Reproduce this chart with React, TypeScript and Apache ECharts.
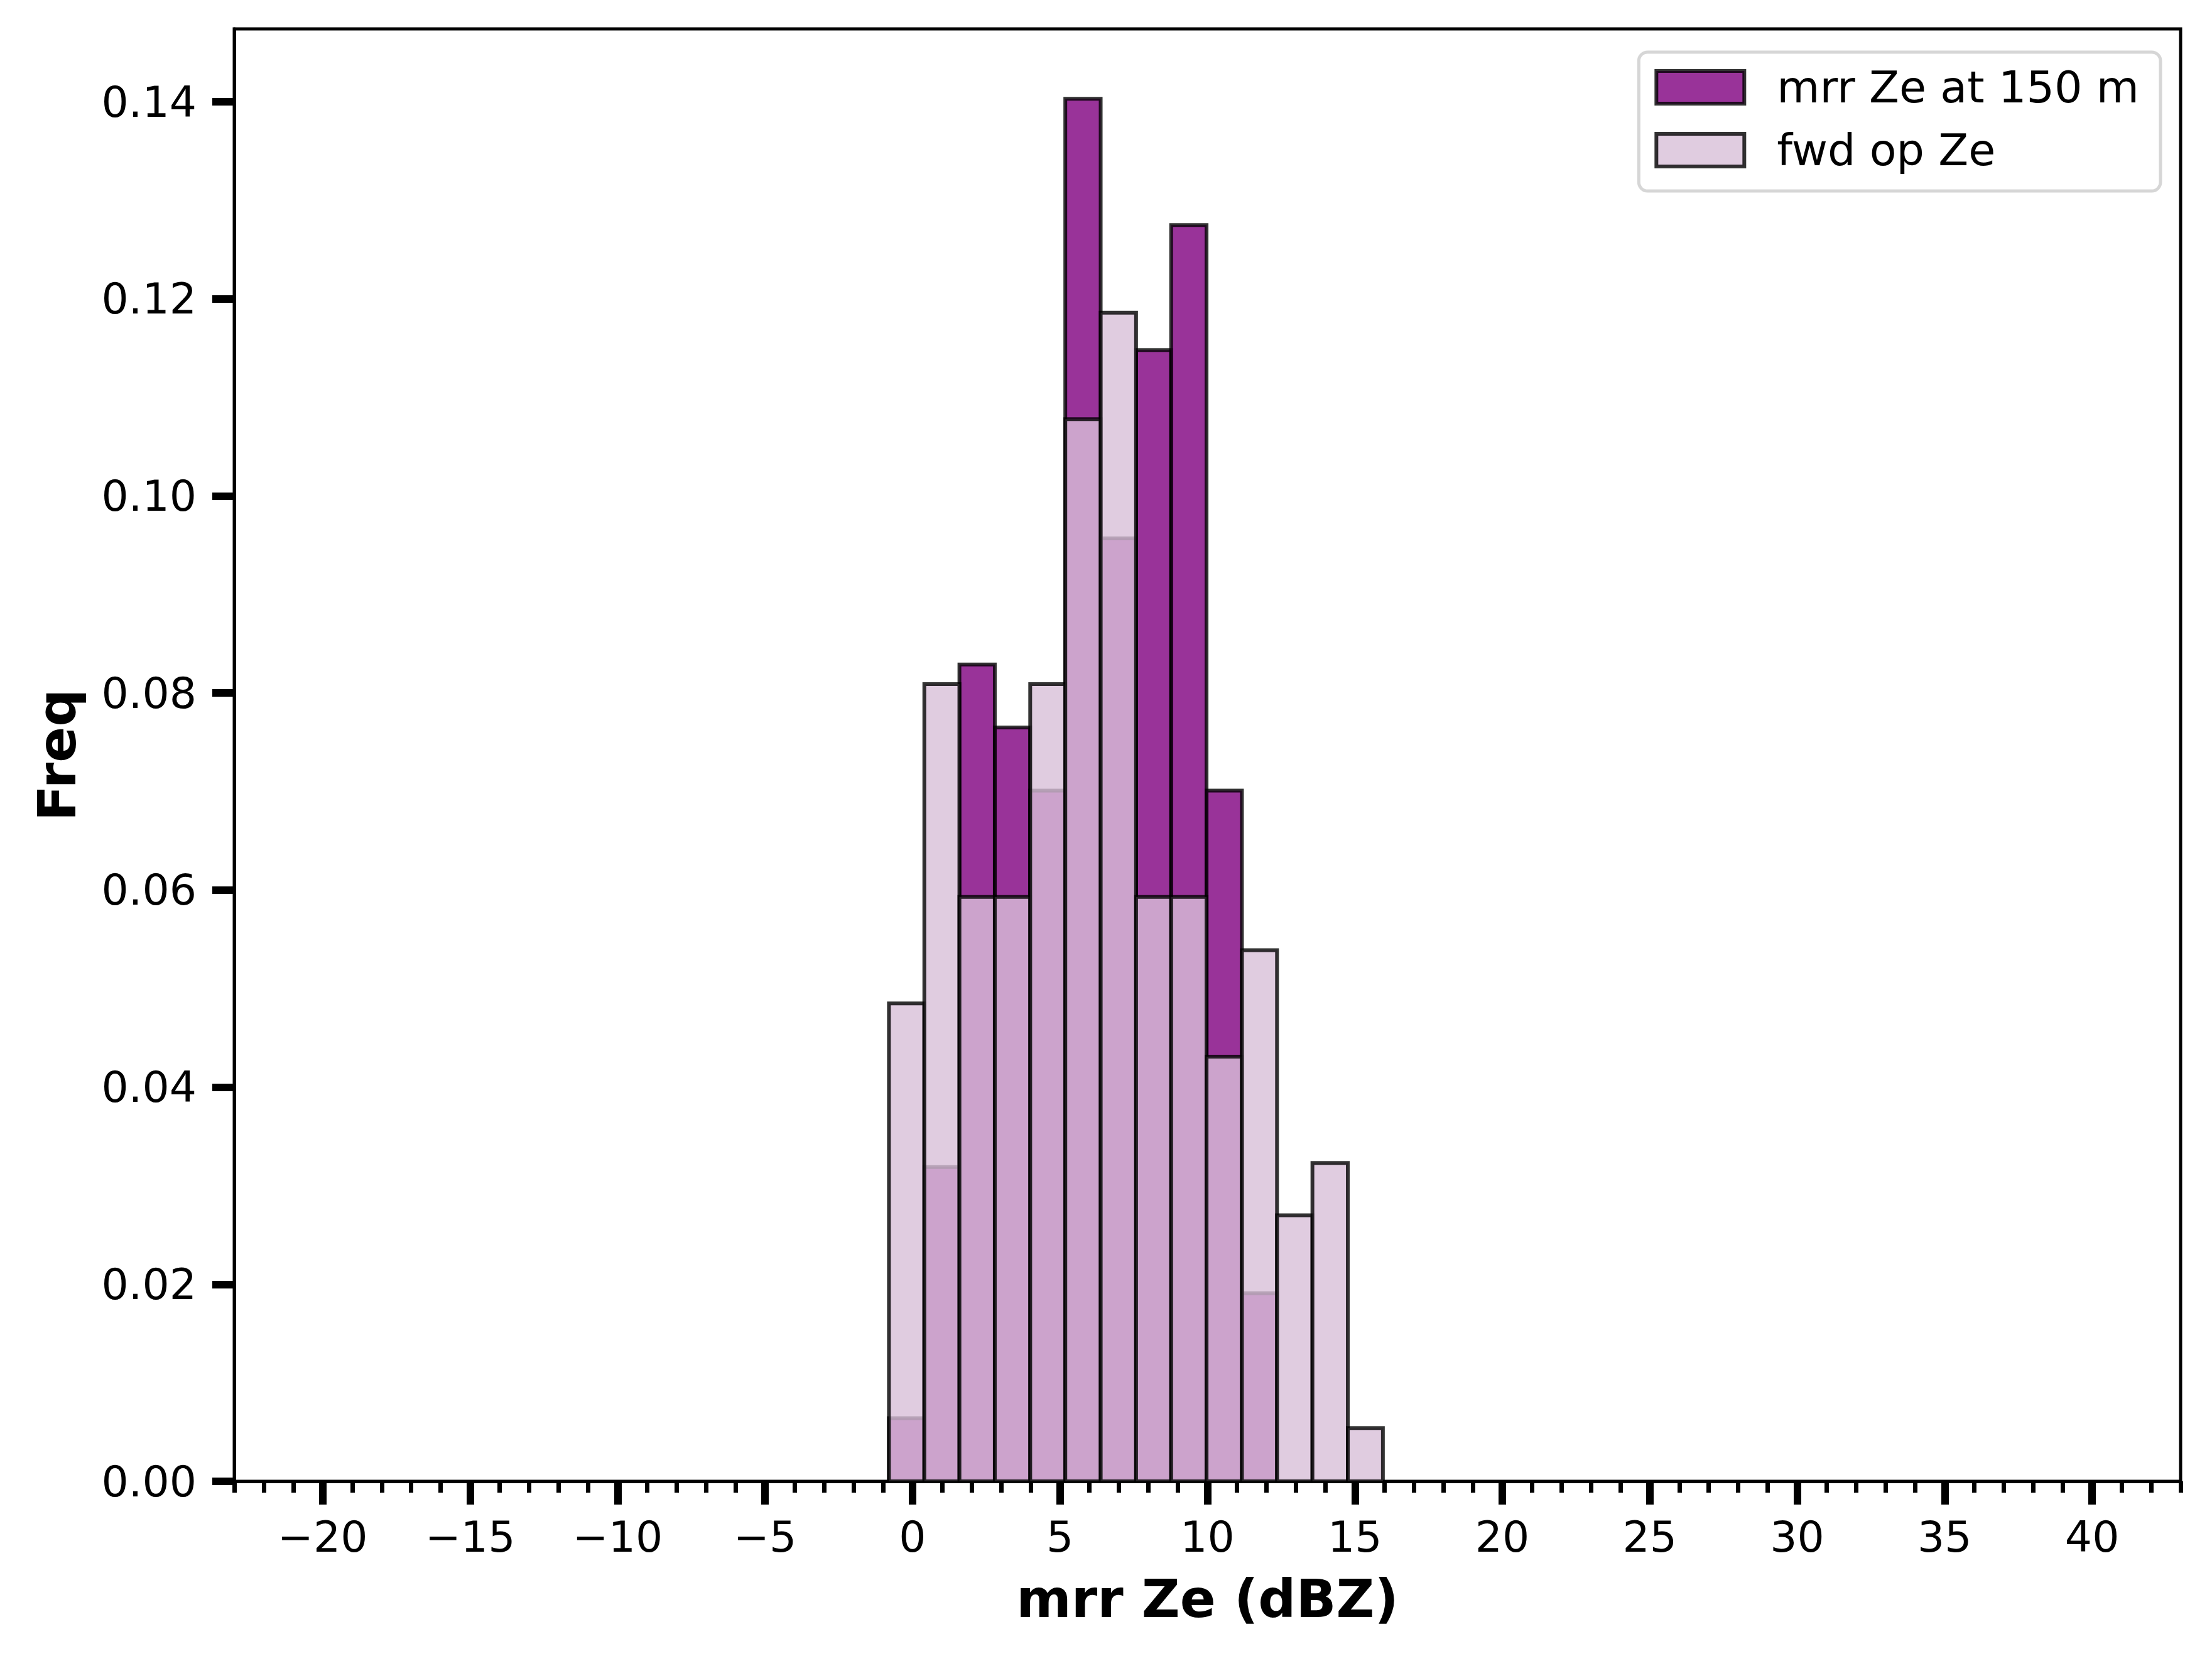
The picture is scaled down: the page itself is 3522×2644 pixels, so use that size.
import React, { useEffect, useRef } from "react";
import * as echarts from "echarts";

// Histogram bin edges (dBZ)
const binEdges = [-0.8, 0.4, 1.59, 2.79, 3.99, 5.18, 6.38, 7.58, 8.77, 9.97, 11.17, 12.36, 13.56, 14.76, 15.95];
// Density per bin
const mrrFreq = [0.0064, 0.0319, 0.0829, 0.0765, 0.0701, 0.1403, 0.0957, 0.1148, 0.1275, 0.0701, 0.0191, 0, 0, 0];
const fwdFreq = [0.0485, 0.0809, 0.0593, 0.0593, 0.0809, 0.1078, 0.1186, 0.0593, 0.0593, 0.0431, 0.0539, 0.027, 0.0323, 0.0054];

const seriesNames = ["mrr Ze at 150 m", "fwd op Ze"];

const xMajorTicks = [-20, -15, -10, -5, 0, 5, 10, 15, 20, 25, 30, 35, 40];
const xMinorTicks = [
  -23, -22, -21, -19, -18, -17, -16, -14, -13, -12, -11, -9, -8, -7, -6, -4, -3, -2, -1,
  1, 2, 3, 4, 6, 7, 8, 9, 11, 12, 13, 14, 16, 17, 18, 19, 21, 22, 23, 24, 26, 27, 28, 29,
  31, 32, 33, 34, 36, 37, 38, 39, 41, 42, 43,
];
const yTicks = [0, 0.02, 0.04, 0.06, 0.08, 0.1, 0.12, 0.14];

const FONT = "DejaVu Sans";
const MRR_FILL = "rgba(128,0,128,0.8)";
const FWD_FILL = "rgba(216,191,216,0.8)";
const EDGE = "rgba(0,0,0,0.8)";

function buildData(freq: number[]) {
  const out: number[][] = [];
  for (let i = 0; i < freq.length; i++) {
    if (freq[i] > 0) out.push([binEdges[i], binEdges[i + 1], freq[i]]);
  }
  return out;
}

function makeRender(fill: string) {
  return (_params: any, api: any) => {
    const x0 = api.value(0);
    const x1 = api.value(1);
    const y = api.value(2);
    const p0 = api.coord([x0, y]);
    const p1 = api.coord([x1, 0]);
    return {
      type: "rect",
      shape: { x: p0[0], y: p0[1], width: p1[0] - p0[0], height: p1[1] - p0[1] },
      style: { fill, stroke: EDGE, lineWidth: 6 },
    };
  };
}

const fmtX = (v: number) => (v < 0 ? "\u2212" + Math.abs(v) : String(v));

export default function App() {
  const ref = useRef<HTMLDivElement>(null);
  useEffect(() => {
    if (!ref.current) return;
    const chart = echarts.init(ref.current, undefined, { renderer: "svg" });
    const option: any = {
      animation: false,
      backgroundColor: "#ffffff",
      textStyle: { fontFamily: FONT },
      grid: {
        left: 373,
        right: 50,
        top: 46,
        bottom: 286,
        show: true,
        borderColor: "#000",
        borderWidth: 5,
        backgroundColor: "transparent",
        containLabel: false,
        outerBoundsMode: "none",
      },
      legend: {
        orient: "vertical",
        right: 82,
        top: 83,
        padding: [21, 34, 30, 25],
        itemWidth: 140,
        itemHeight: 52,
        itemGap: 30,
        backgroundColor: "#ffffff",
        borderColor: "#d6d6d6",
        borderWidth: 5,
        borderRadius: 14,
        icon: "rect",
        textStyle: { fontSize: 70, color: "#000", fontFamily: FONT, padding: [0, 0, 0, 47] },
        data: [
          { name: seriesNames[0], itemStyle: { color: MRR_FILL, borderColor: EDGE, borderWidth: 6 } },
          { name: seriesNames[1], itemStyle: { color: FWD_FILL, borderColor: EDGE, borderWidth: 6 } },
        ],
      },
      xAxis: [
        {
          type: "value",
          min: -23,
          max: 43,
          position: "bottom",
          axisLine: { show: true, onZero: false, lineStyle: { color: "#000", width: 5 } },
          axisTick: { show: true, customValues: xMajorTicks, length: 37, lineStyle: { color: "#000", width: 12 } },
          axisLabel: {
            show: true,
            customValues: xMajorTicks,
            formatter: fmtX,
            fontSize: 68,
            color: "#000",
            fontFamily: FONT,
            margin: 54,
          },
          splitLine: { show: false },
          name: "mrr Ze (dBZ)",
          nameLocation: "middle",
          nameGap: 145,
          nameTextStyle: { fontSize: 84, fontWeight: "bold", color: "#000", fontFamily: FONT },
        },
        {
          type: "value",
          min: -23,
          max: 43,
          position: "bottom",
          axisLine: { show: false, onZero: false },
          axisTick: { show: true, customValues: xMinorTicks, length: 18, lineStyle: { color: "#000", width: 7 } },
          axisLabel: { show: false },
          splitLine: { show: false },
        },
      ],
      yAxis: {
        type: "value",
        min: 0,
        max: 0.1474,
        axisLine: { show: true, onZero: false, lineStyle: { color: "#000", width: 5 } },
        axisTick: { show: true, customValues: yTicks, length: 35, lineStyle: { color: "#000", width: 12 } },
        axisLabel: {
          show: true,
          customValues: yTicks,
          formatter: (v: number) => v.toFixed(2),
          fontSize: 68,
          color: "#000",
          fontFamily: FONT,
          margin: 60,
        },
        splitLine: { show: false },
        name: "Freq",
        nameLocation: "middle",
        nameGap: 240,
        nameRotate: 90,
        nameTextStyle: { fontSize: 84, fontWeight: "bold", color: "#000", fontFamily: FONT },
      },
      series: [
        {
          name: seriesNames[0],
          type: "custom",
          xAxisIndex: 0,
          yAxisIndex: 0,
          z: 2,
          itemStyle: { color: MRR_FILL, borderColor: EDGE },
          renderItem: makeRender(MRR_FILL),
          encode: { x: [0, 1], y: 2 },
          data: buildData(mrrFreq),
        },
        {
          name: seriesNames[1],
          type: "custom",
          xAxisIndex: 0,
          yAxisIndex: 0,
          z: 3,
          itemStyle: { color: FWD_FILL, borderColor: EDGE },
          renderItem: makeRender(FWD_FILL),
          encode: { x: [0, 1], y: 2 },
          data: buildData(fwdFreq),
        },
      ],
    };
    chart.setOption(option);
    return () => chart.dispose();
  }, []);
  return (
    <div
      ref={ref}
      style={{ position: "fixed", left: 0, top: 0, width: 3522, height: 2644, background: "#fff" }}
    />
  );
}
